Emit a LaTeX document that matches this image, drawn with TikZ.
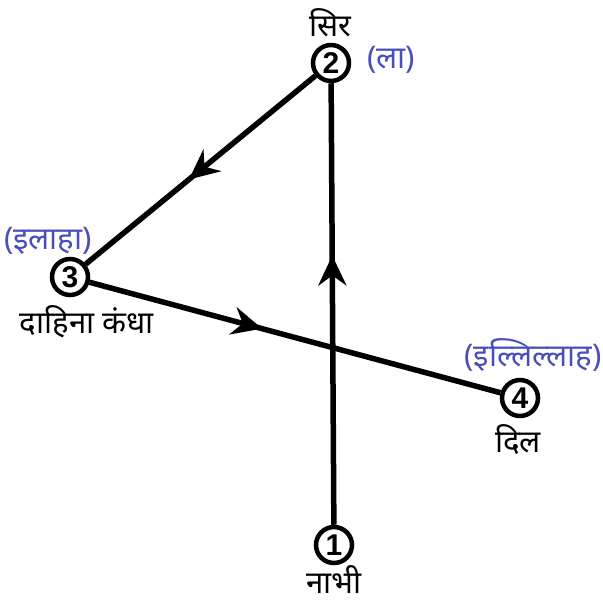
\documentclass[tikz,border=0pt]{standalone}
\usepackage{fontspec}
\setmainfont{Liberation Sans}
\newfontfamily\deva[Script=Devanagari,Scale=1.3]{Noto Sans}
\usetikzlibrary{arrows.meta,decorations.markings}
\definecolor{lblblue}{RGB}{72,78,190}
\tikzset{
  num/.style={circle,draw=black,line width=4.5pt,minimum size=36pt,inner sep=0pt,font=\fontsize{30}{30}\selectfont\bfseries,fill=white},
  dtext/.style={font=\fontsize{24}{26}\selectfont\deva,inner sep=0pt},
  btext/.style={dtext,text=lblblue},
  conn/.style={line width=5.5pt,draw=black},
  midarrow/.style={postaction={decorate,decoration={markings,mark=at position #1 with {\arrow{Stealth[length=30pt,width=28pt,inset=10pt]}}}}}
}
\begin{document}
\begin{tikzpicture}[x=1pt,y=-1pt]
\useasboundingbox (0,0) rectangle (603,603);
\node[num] (n1) at (334,545) {1};
\node[num] (n2) at (331,63) {2};
\node[num] (n3) at (70,277) {3};
\node[num] (n4) at (520,398) {4};
\draw[conn,midarrow=0.61] (n1) -- (n2);
\draw[conn,midarrow=0.55] (n2) -- (n3);
\draw[conn,midarrow=0.42] (n3) -- (n4);
\node[dtext] (t2) at (330,23) {सिर};
\node[btext] (b2) at (391,60) {(ला)};
\node[btext] (b3) at (48,241) {(इलाहा)};
\node[dtext] (t3) at (87,322) {दाहिना कंधा};
\node[btext] (b4) at (533,355) {(इल्लिल्लाह)};
\node[dtext] (t4) at (518,440) {दिल};
\node[dtext] (t1) at (334,580) {नाभी};
\end{tikzpicture}
\end{document}
